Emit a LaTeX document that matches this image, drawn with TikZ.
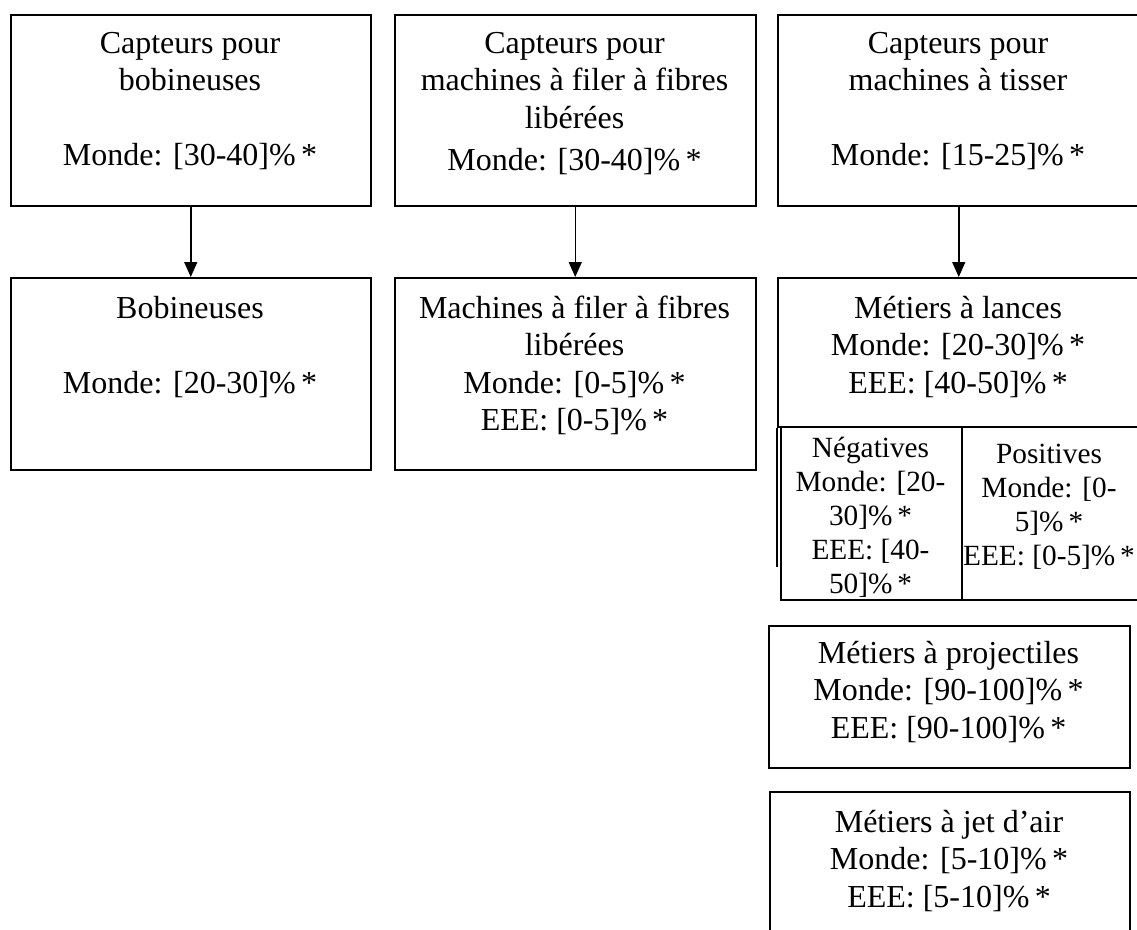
\documentclass[tikz,border=0pt]{standalone}
\usepackage{fontspec}
\setmainfont{Liberation Serif}
\usetikzlibrary{arrows.meta}
\newcommand{\boxtext}[1]{\parbox[t]{400pt}{\centering #1}}
\tikzset{
  box/.style={draw=black, line width=1.5pt, rectangle, inner sep=0pt, anchor=north west},
  bigtext/.style={inner sep=0pt, anchor=base, font=\fontsize{32}{37.5}\selectfont},
  smalltext/.style={inner sep=0pt, anchor=base, font=\fontsize{29.3}{34}\selectfont},
  arr/.style={line width=1.5pt, -{Triangle[width=13pt,length=15pt]}}
}
\begin{document}
\begin{tikzpicture}[x=1pt,y=-1pt]
\useasboundingbox (0,0) rectangle (1137,929);
\clip (0,0) rectangle (1137,929);
\fill[white] (0,0) rectangle (1137,929);
% top row
\node[box, minimum width=360pt, minimum height=191pt] (b1) at (10,14) {};
\node[box, minimum width=361pt, minimum height=191pt] (b2) at (394,14) {};
\node[box, minimum width=362pt, minimum height=191pt] (b3) at (777,14) {};
% second row
\node[box, minimum width=360pt, minimum height=192pt] (c1) at (10,277) {};
\node[box, minimum width=361pt, minimum height=192pt] (c2) at (394,277) {};
\node[box, minimum width=362pt, minimum height=149pt] (c3) at (777,277) {};
\node[box, minimum width=181pt, minimum height=173pt] (neg) at (780,426) {};
\node[box, minimum width=178pt, minimum height=173pt] (pos) at (961,426) {};
\draw[line width=1.5pt] (c3.south west) -- ++(0,139);
% further boxes
\node[box, minimum width=361pt, minimum height=142pt] (proj) at (768,625) {};
\node[box, minimum width=360pt, minimum height=160pt] (jet) at (769,791) {};
% arrows
\draw[arr] (b1.south) -- (c1.north);
\draw[arr] (b2.south) -- (c2.north);
\draw[arr] (b3.south) -- (c3.north);
% texts
\node[bigtext] (t1) at (190,53) {\boxtext{Capteurs pour\\bobineuses\\[37.5pt]Monde: [30-40]\%\,*}};
\node[bigtext] (t2) at (574.5,53) {\boxtext{Capteurs pour\\machines à filer à fibres\\libérées\\[5pt]Monde: [30-40]\%\,*}};
\node[bigtext] (t3) at (958,53) {\boxtext{Capteurs pour\\machines à tisser\\[37.5pt]Monde: [15-25]\%\,*}};
\node[bigtext] (u1) at (190,318) {\boxtext{Bobineuses\\[37.5pt]Monde: [20-30]\%\,*}};
\node[bigtext] (u2) at (574.5,318) {\boxtext{Machines à filer à fibres\\libérées\\Monde: [0-5]\%\,*\\EEE: [0-5]\%\,*}};
\node[bigtext] (u3) at (958,318) {\boxtext{Métiers à lances\\Monde: [20-30]\%\,*\\EEE: [40-50]\%\,*}};
\node[smalltext] (tneg) at (870.5,457) {\boxtext{Négatives\\Monde: [20-\\30]\%\,*\\EEE: [40-\\50]\%\,*}};
\node[smalltext] (tpos) at (1049,463) {\boxtext{Positives\\Monde: [0-\\5]\%\,*\\EEE: [0-5]\%\,*}};
\node[bigtext] (tproj) at (948.5,663) {\boxtext{Métiers à projectiles\\Monde: [90-100]\%\,*\\EEE: [90-100]\%\,*}};
\node[bigtext] (tjet) at (949,832) {\boxtext{Métiers à jet d’air\\Monde: [5-10]\%\,*\\EEE: [5-10]\%\,*}};
\end{tikzpicture}
\end{document}
